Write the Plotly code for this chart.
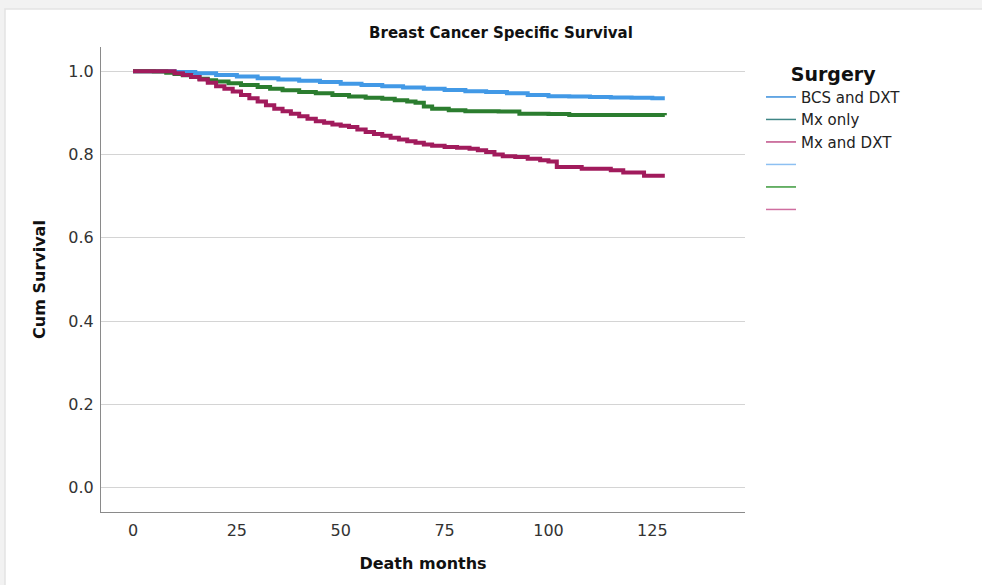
import plotly.graph_objects as go

# ---- data ----
bcs_months = [0, 5, 10, 15, 20, 25, 30, 35, 40, 45, 50, 55, 60, 65, 70, 75, 80, 85, 90, 95, 100, 105, 110, 115, 120, 125, 128]
bcs_surv = [1.0, 1.0, 0.998, 0.995, 0.991, 0.987, 0.983, 0.980, 0.977, 0.974, 0.970, 0.967, 0.964, 0.961, 0.958,
            0.955, 0.952, 0.950, 0.947, 0.943, 0.940, 0.939, 0.938, 0.937, 0.936, 0.935, 0.935]

mx_months = [0, 5, 8, 10, 12, 14, 16, 18, 20, 23, 26, 30, 33, 36, 40, 44, 48, 52, 56, 60, 63, 66, 68, 70, 72, 76,
             80, 88, 93, 100, 105, 128]
mx_surv = [1.0, 0.999, 0.996, 0.993, 0.990, 0.986, 0.982, 0.978, 0.975, 0.971, 0.967, 0.962, 0.958, 0.954, 0.950,
           0.947, 0.943, 0.939, 0.936, 0.934, 0.930, 0.927, 0.924, 0.915, 0.910, 0.906, 0.904, 0.903, 0.898,
           0.897, 0.895, 0.894]

mxd_months = [0, 7, 10, 12, 14, 16, 18, 20, 22, 24, 26, 28, 30, 32, 34, 36, 38, 40, 42, 44, 46, 48, 50, 52, 54, 56,
              58, 60, 62, 64, 66, 68, 70, 72, 75, 78, 81, 83, 85, 87, 89, 92, 95, 98, 100, 102, 108, 115, 118, 123, 128]
mxd_surv = [1.0, 1.0, 0.995, 0.991, 0.986, 0.980, 0.972, 0.964, 0.958, 0.951, 0.943, 0.935, 0.927, 0.918, 0.910,
            0.904, 0.898, 0.892, 0.886, 0.880, 0.876, 0.872, 0.869, 0.866, 0.860, 0.854, 0.849, 0.845, 0.840,
            0.836, 0.832, 0.828, 0.824, 0.821, 0.818, 0.816, 0.814, 0.810, 0.806, 0.800, 0.796, 0.794, 0.790,
            0.786, 0.783, 0.770, 0.766, 0.762, 0.757, 0.749, 0.749]

group_names = ["BCS and DXT", "Mx only", "Mx and DXT"]
x_ticks = [0, 25, 50, 75, 100, 125]
y_ticks = [0.0, 0.2, 0.4, 0.6, 0.8, 1.0]

line_colors = ["#4299e6", "#2b7d2f", "#a11b5c"]
legend_step_colors = ["#3a8fdc", "#3f8585", "#c05088"]
legend_line_colors = ["#8dc0f2", "#3c9a3c", "#cf6ea0"]

FONT = "DejaVu Sans"

fig = go.Figure()
for xs, ys, c in zip([bcs_months, mx_months, mxd_months], [bcs_surv, mx_surv, mxd_surv], line_colors):
    fig.add_trace(go.Scatter(x=xs, y=ys, mode="lines", line=dict(color=c, width=4, shape="hv"),
                             showlegend=False, hoverinfo="skip"))

for name, c in zip(group_names, legend_step_colors):
    fig.add_trace(go.Scatter(x=[None], y=[None], mode="lines", name=name,
                             line=dict(color=c, width=1.5)))
for c in legend_line_colors:
    fig.add_trace(go.Scatter(x=[None], y=[None], mode="lines", name=" ",
                             line=dict(color=c, width=1.5)))

# white card with light border (outer page is light grey)
fig.add_shape(type="rect", xref="paper", yref="paper",
              x0=(5 - 101) / 644, x1=(990 - 101) / 644,
              y0=(512 - 600) / 465, y1=(512 - 9) / 465,
              fillcolor="white", line=dict(color="#e3e3e3", width=1.5), layer="below")

fig.update_layout(
    width=982, height=585,
    margin=dict(l=101, r=237, t=47, b=73),
    paper_bgcolor="#f2f2f2", plot_bgcolor="rgba(0,0,0,0)",
    font=dict(family=FONT, color="#222222"),
    title=dict(text="<b>Breast Cancer Specific Survival</b>", x=501 / 982, xanchor="center",
               y=1 - 33 / 585, yanchor="middle", font=dict(size=15, color="#111111")),
    legend=dict(x=(761 - 101) / 644, xanchor="left", y=(512 - 56) / 465, yanchor="top",
                bgcolor="rgba(0,0,0,0)",
                title=dict(text="<b>Surgery</b>", side="top center", font=dict(size=19, color="#111111")),
                font=dict(size=15, color="#222222"), itemwidth=30, tracegroupgap=0),
)

fig.update_xaxes(range=[-7.7, 147.3], tickvals=x_ticks, showgrid=False, zeroline=False,
                 showline=True, linecolor="#8a8a8a", linewidth=1,
                 ticks="outside", ticklen=4, tickcolor="rgba(0,0,0,0)",
                 tickfont=dict(size=16, color="#333333"),
                 title=dict(text="<b>Death months</b>", font=dict(size=16, color="#111111"), standoff=18))
fig.update_yaxes(range=[-0.058, 1.058], tickvals=y_ticks, tickformat=".1f", showgrid=True,
                 gridcolor="#d4d4d4", gridwidth=1, zeroline=False,
                 showline=True, linecolor="#8a8a8a", linewidth=1,
                 ticks="outside", ticklen=3, tickcolor="rgba(0,0,0,0)",
                 tickfont=dict(size=16, color="#333333"),
                 title=dict(text="<b>Cum Survival</b>", font=dict(size=16, color="#111111"), standoff=18))

fig.write_html("out.html", config={"displayModeBar": False},
               post_script="document.body.style.margin='0';document.body.style.background='#f2f2f2';")
